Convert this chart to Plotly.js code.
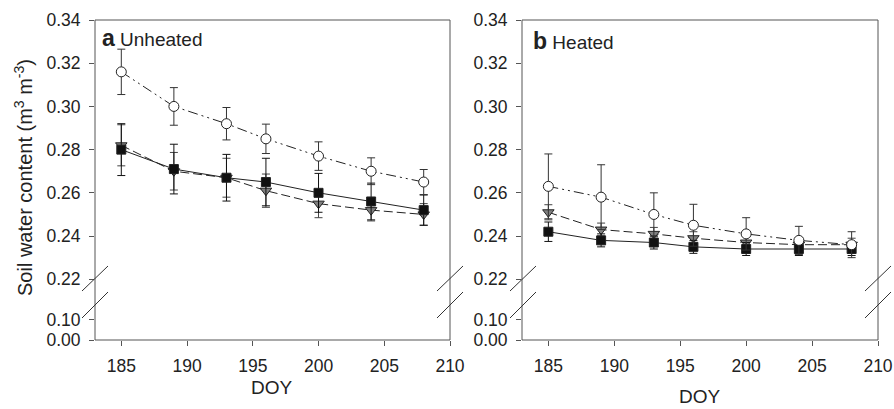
<!DOCTYPE html>
<html>
<head>
<meta charset="utf-8">
<script src="https://cdn.plot.ly/plotly-3.0.1.min.js"></script>
<style>html,body{margin:0;padding:0;background:#fff}#chart{width:894px;height:409px}</style>
</head>
<body>
<div id="chart"></div>
<script>
// ---- data ----
const doy = [185, 189, 193, 196, 200, 204, 208];
const xTicks = [185, 190, 195, 200, 205, 210];
const upperTicks = [0.22, 0.24, 0.26, 0.28, 0.30, 0.32, 0.34];
const lowerTicks = [0.00, 0.10];
const lowerTickText = ['0.00', '0.10'];

// Panel a: Unheated
const aCircle = [0.316, 0.300, 0.292, 0.285, 0.277, 0.270, 0.265];
const aCircleErr = [0.0105, 0.0087, 0.0075, 0.0068, 0.0066, 0.0062, 0.0058];
const aTriangle = [0.282, 0.270, 0.267, 0.261, 0.255, 0.252, 0.250];
const aTriangleErr = [0.0095, 0.0087, 0.009, 0.0077, 0.0065, 0.005, 0.005];
const aSquare = [0.280, 0.271, 0.267, 0.265, 0.260, 0.256, 0.252];
const aSquareErr = [0.012, 0.0115, 0.0108, 0.011, 0.009, 0.0085, 0.007];

// Panel b: Heated
const bCircle = [0.263, 0.258, 0.250, 0.245, 0.241, 0.238, 0.236];
const bCircleErr = [0.015, 0.015, 0.010, 0.0097, 0.0075, 0.0065, 0.006];
const bTriangle = [0.251, 0.243, 0.241, 0.239, 0.237, 0.236, 0.236];
const bTriangleErr = [0.0035, 0.003, 0.003, 0.003, 0.003, 0.003, 0.003];
const bSquare = [0.242, 0.238, 0.237, 0.235, 0.234, 0.234, 0.234];
const bSquareErr = [0.0045, 0.003, 0.003, 0.003, 0.003, 0.003, 0.003];

// ---- layout geometry ----
const W = 894, H = 409;
const M = {l: 95, r: 16, t: 20, b: 69};
const PW = W - M.l - M.r, PH = H - M.t - M.b;
const domA = [0, (450 - 95) / PW];
const domB = [(522 - 95) / PW, 1];
const breakFrac = 0.125;
const px = x => (x - M.l) / PW;
const py = y => (H - M.b - y) / PH;
const axisCol = '#555';
const FAM = '"Liberation Sans", Arial, sans-serif';
const tickFont = {family: FAM, size: 17.5, color: '#222'};

function series(xa, ya, y, err, kind) {
  const st = {
    circle: {sym: 'circle', size: 10, fill: '#ffffff', dash: '10px,4px,2px,4px,2px,4px', ecol: '#333'},
    triangle: {sym: 'triangle-down', size: 10, fill: '#808080', dash: '9px,4px', ecol: '#444'},
    square: {sym: 'square', size: 9, fill: '#111111', dash: 'solid', ecol: '#111'}
  }[kind];
  return {
    x: doy, y: y, xaxis: xa, yaxis: ya, type: 'scatter', mode: 'lines+markers',
    line: {color: '#222', width: 1, dash: st.dash},
    marker: {symbol: st.sym, size: st.size, color: st.fill, line: {color: '#222', width: 1}},
    error_y: {type: 'data', array: err, visible: true, color: st.ecol, thickness: 1, width: 4},
    showlegend: false, hoverinfo: 'x+y'
  };
}
// empty traces so that the lower (broken) y-axis segments get their own subplots
function axisHolder(xa, ya) {
  return {x: [], y: [], xaxis: xa, yaxis: ya, type: 'scatter', mode: 'markers',
    showlegend: false, hoverinfo: 'skip'};
}

const data = [
  axisHolder('x', 'y2'),
  axisHolder('x2', 'y4'),
  series('x', 'y', aTriangle, aTriangleErr, 'triangle'),
  series('x', 'y', aSquare, aSquareErr, 'square'),
  series('x', 'y', aCircle, aCircleErr, 'circle'),
  series('x2', 'y3', bTriangle, bTriangleErr, 'triangle'),
  series('x2', 'y3', bSquare, bSquareErr, 'square'),
  series('x2', 'y3', bCircle, bCircleErr, 'circle')
];

function xAxis(dom) {
  return {domain: dom, anchor: 'free', position: 0, range: [183, 210], tickvals: xTicks,
    ticks: 'outside', ticklen: 5, tickcolor: axisCol, showgrid: false, zeroline: false,
    showline: false, tickfont: tickFont, ticklabelstandoff: 5};
}
function upperY(anchor) {
  return {domain: [breakFrac, 1], anchor: anchor, range: [0.2104, 0.34], tickvals: upperTicks,
    tickformat: '.2f', ticks: 'outside', ticklen: 5, tickcolor: axisCol, showgrid: false,
    zeroline: false, showline: false, tickfont: tickFont, ticklabelstandoff: 5};
}
function lowerY(anchor) {
  return {domain: [0, breakFrac], anchor: anchor, range: [0, 0.195], tickvals: lowerTicks,
    ticktext: lowerTickText, ticks: 'outside', ticklen: 5, tickcolor: axisCol, showgrid: false,
    zeroline: false, showline: false, tickfont: tickFont, ticklabelstandoff: 5};
}

const shapes = [];
[domA, domB].forEach(d => {
  shapes.push({type: 'rect', xref: 'paper', yref: 'paper', x0: d[0], x1: d[1], y0: 0, y1: 1,
    line: {color: axisCol, width: 1}, layer: 'below'});
});
// axis-break slashes
const cxs = [95, 450, 523, 878];
cxs.forEach(cx => {
  [[291, 266], [318, 292]].forEach(([yb, yt]) => {
    shapes.push({type: 'line', xref: 'paper', yref: 'paper',
      x0: px(cx - 13), y0: py(yb), x1: px(cx + 13), y1: py(yt),
      line: {color: '#333', width: 1}});
  });
});

const annotations = [
  {xref: 'paper', yref: 'paper', x: px(100), y: py(38), xanchor: 'left', yanchor: 'middle',
    showarrow: false, text: '<b style="font-size:23px">a</b> Unheated', font: {family: FAM, size: 19, color: '#222'}},
  {xref: 'paper', yref: 'paper', x: px(531), y: py(41), xanchor: 'left', yanchor: 'middle',
    showarrow: false, text: '<b style="font-size:23px">b</b> Heated', font: {family: FAM, size: 19, color: '#222'}},
  {xref: 'paper', yref: 'paper', x: px(272), y: py(387), xanchor: 'center', yanchor: 'middle',
    showarrow: false, text: 'DOY', font: {family: FAM, size: 19, color: '#222'}},
  {xref: 'paper', yref: 'paper', x: px(700), y: py(396), xanchor: 'center', yanchor: 'middle',
    showarrow: false, text: 'DOY', font: {family: FAM, size: 19, color: '#222'}},
  {xref: 'paper', yref: 'paper', x: px(23), y: py(178), xanchor: 'center', yanchor: 'middle',
    showarrow: false, textangle: -90, text: 'Soil water content (m<sup>3</sup> m<sup>-3</sup>)',
    font: {family: FAM, size: 20, color: '#222'}}
];

const layout = {
  width: W, height: H, margin: M, paper_bgcolor: '#fff', plot_bgcolor: '#fff',
  font: tickFont, showlegend: false,
  xaxis: xAxis(domA),
  yaxis: upperY('x'),
  yaxis2: lowerY('x'),
  xaxis2: xAxis(domB),
  yaxis3: upperY('x2'),
  yaxis4: lowerY('x2'),
  shapes: shapes,
  annotations: annotations
};

Plotly.newPlot('chart', data, layout, {staticPlot: true, displayModeBar: false});
</script>
</body>
</html>
